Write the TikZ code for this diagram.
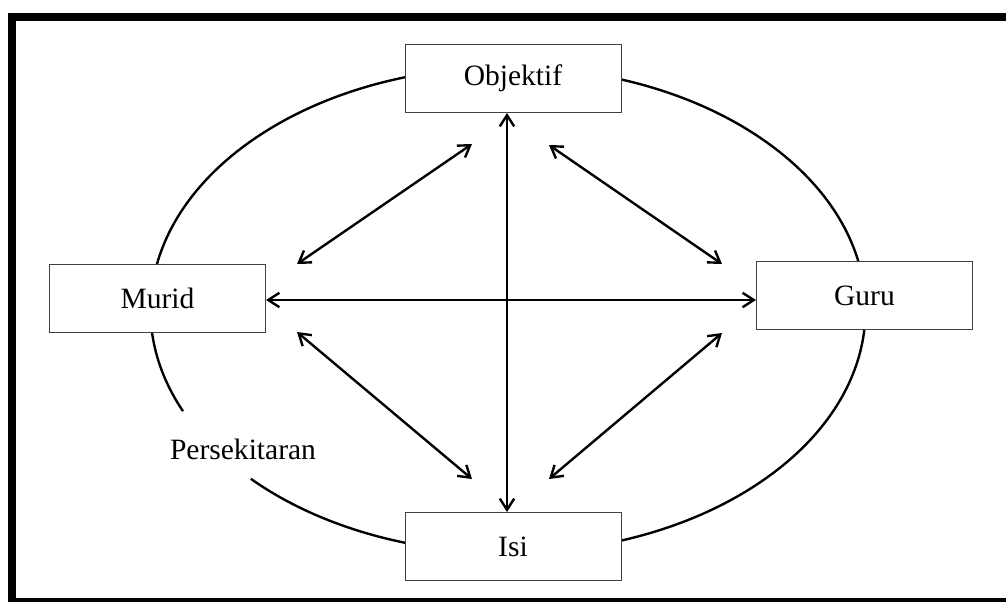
\documentclass[tikz,border=0pt]{standalone}
\usepackage{fontspec}
\setmainfont{Liberation Serif}
\usetikzlibrary{arrows.meta, positioning, calc}
\tikzset{block/.style={rectangle,draw=black!75,line width=0.7pt,fill=white,minimum width=5.4cm,minimum height=1.7cm,font=\fontsize{21}{25}\selectfont},
         envtext/.style={font=\fontsize{21}{25}\selectfont,inner sep=0pt},
         ring/.style={line width=1.7pt},
         outerframe/.style={draw,line width=0.2cm},
         arrow/.style={{Straight Barb[length=2.8mm,width=3.6mm]}-{Straight Barb[length=2.8mm,width=3.6mm]},line width=1.7pt}}
\begin{document}
\begin{tikzpicture}[node distance=1.0cm]
    \useasboundingbox (0,0) rectangle (25.15,-15.025);
    \draw[outerframe] (0.2875,-0.4125) rectangle (25.4,-15.05);
    \coordinate (c) at (12.675,-7.5);
    % environment ring, open at the lower left
    \draw[ring] ($(c)+(0.025,-0.25)$) ++(224:8.9375cm and 6.075cm) arc (224:564.6:8.9375cm and 6.075cm);
    \node (obj) [block, above=4.675cm of c, xshift=0.15cm] {Objektif};
    \node (isi) [block, below=5.3cm of c, xshift=0.15cm] {Isi};
    \node (murid) [block, left=6.025cm of c, yshift=0.05cm] {Murid};
    \node (guru) [block, right=6.225cm of c, yshift=0.11cm] {Guru};
    \node (env) [envtext] at ($(c)+(-6.6,-3.725)$) {Persekitaran};
    \coordinate (mo1) at ($(c)+(-5.25,0.9)$);
    \coordinate (mo2) at ($(c)+(-0.875,3.9)$);
    \coordinate (og1) at ($(c)+(1.05,3.875)$);
    \coordinate (og2) at ($(c)+(5.375,0.9)$);
    \coordinate (mi1) at ($(c)+(-5.25,-0.8)$);
    \coordinate (mi2) at ($(c)+(-0.875,-4.475)$);
    \coordinate (ig1) at ($(c)+(1.05,-4.475)$);
    \coordinate (ig2) at ($(c)+(5.375,-0.825)$);
    \draw[arrow] (obj.south -| c) -- (isi.north -| c);
    \draw[arrow] (murid.east |- c) -- (guru.west |- c);
    \foreach \a/\b in {mo1/mo2,og1/og2,mi1/mi2,ig1/ig2} {\draw[arrow] (\a) -- (\b);}
  \end{tikzpicture}
\end{document}
